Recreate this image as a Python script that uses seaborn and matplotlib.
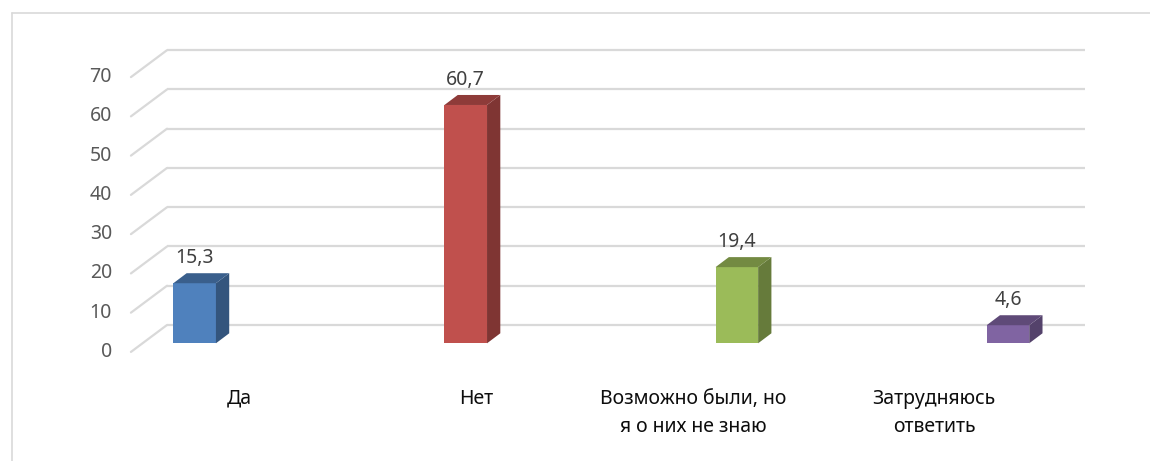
import matplotlib as mpl
mpl.use('Agg')
import matplotlib.pyplot as plt
from matplotlib.patches import Polygon
from matplotlib.lines import Line2D
import numpy as np
import pandas as pd
import seaborn as sns

# ── Data ──────────────────────────────────────────────────────────────────
categories = ['Да', 'Нет', 'Возможно были, но\nя о них не знаю', 'Затрудняюсь\nответить']
values = [15.3, 60.7, 19.4, 4.6]
value_labels = ['15,3', '60,7', '19,4', '4,6']
yticks = [0, 10, 20, 30, 40, 50, 60, 70]
colors = ['#4f81bd', '#c0504d', '#9bbb59', '#8064a2']

# ── Pseudo-3D layout (category / value units) ────────────────────────────
BAR_W = 0.157
DEPTH_X, DEPTH_Y = 0.049, 2.55        # bar side/top depth
GRID_BACK, GRID_FRONT = 4.66, -2.2    # wall offsets of gridlines
WALL_X0, WALL_X1, WALL_XR = -0.235, -0.102, 3.284
LABEL_X = [0.163, 1.037, 1.838, 2.727]
TICK_C = '#595959'
VAL_C = '#404040'
CAT_C = '#0d0d0d'
GRID = '#d9d9d9'


def shade(c, f):
    r, g, b = mpl.colors.to_rgb(c)
    return (r * f, g * f, b * f)


sns.set_theme(style='white')
plt.rcParams['font.family'] = ['Noto Sans', 'DejaVu Sans']

fig = plt.figure(figsize=(11.5, 4.61), dpi=100)
ax = fig.add_axes([0, 0, 1, 1])

df = pd.DataFrame({'cat': categories, 'val': values})
sns.barplot(data=df, x='cat', y='val', hue='cat', palette=colors,
            saturation=1, width=BAR_W, legend=False, ax=ax, zorder=3,
            linewidth=0)

# gridlines on back wall + side wall
for v in yticks:
    ax.plot([WALL_X1, WALL_XR], [v + GRID_BACK, v + GRID_BACK],
            color=GRID, lw=1.6, zorder=1, solid_capstyle='butt')
    ax.plot([WALL_X0, WALL_X1], [v + GRID_FRONT, v + GRID_BACK],
            color=GRID, lw=1.6, zorder=1)
    ax.text(-0.305, v + GRID_FRONT, str(v), ha='right', va='center',
            fontsize=14, color=TICK_C)

# 3D side + top faces, value labels
for i, bar in enumerate(ax.patches[:len(values)]):
    x0, w, h = bar.get_x(), bar.get_width(), bar.get_height()
    x1 = x0 + w
    side = Polygon([(x1, 0), (x1 + DEPTH_X, DEPTH_Y), (x1 + DEPTH_X, h + DEPTH_Y), (x1, h)],
                   closed=True, facecolor=shade(colors[i], 0.66), edgecolor='none', zorder=3)
    top = Polygon([(x0, h), (x0 + DEPTH_X, h + DEPTH_Y), (x1 + DEPTH_X, h + DEPTH_Y), (x1, h)],
                  closed=True, facecolor=shade(colors[i], 0.74), edgecolor='none', zorder=3)
    ax.add_patch(side)
    ax.add_patch(top)
    ax.text(x0 + w / 2, h + 6.4, value_labels[i], ha='center', va='center',
            fontsize=14, color=VAL_C)

# category labels
for i, lab in enumerate(categories):
    ax.text(LABEL_X[i], -11.6, lab, ha='center', va='top', fontsize=14,
            color=CAT_C, linespacing=1.55)

ax.set_xlim(-0.718, 3.524)
ax.set_ylim(-29.98, 87.44)
ax.axis('off')

# chart frame (top + left edges visible)
fig.add_artist(Line2D([12 / 1150, 1], [1 - 13 / 461, 1 - 13 / 461], color=GRID, lw=1.2))
fig.add_artist(Line2D([12 / 1150, 12 / 1150], [0, 1 - 13 / 461], color=GRID, lw=1.2))

fig.savefig('out.png', dpi=100)
